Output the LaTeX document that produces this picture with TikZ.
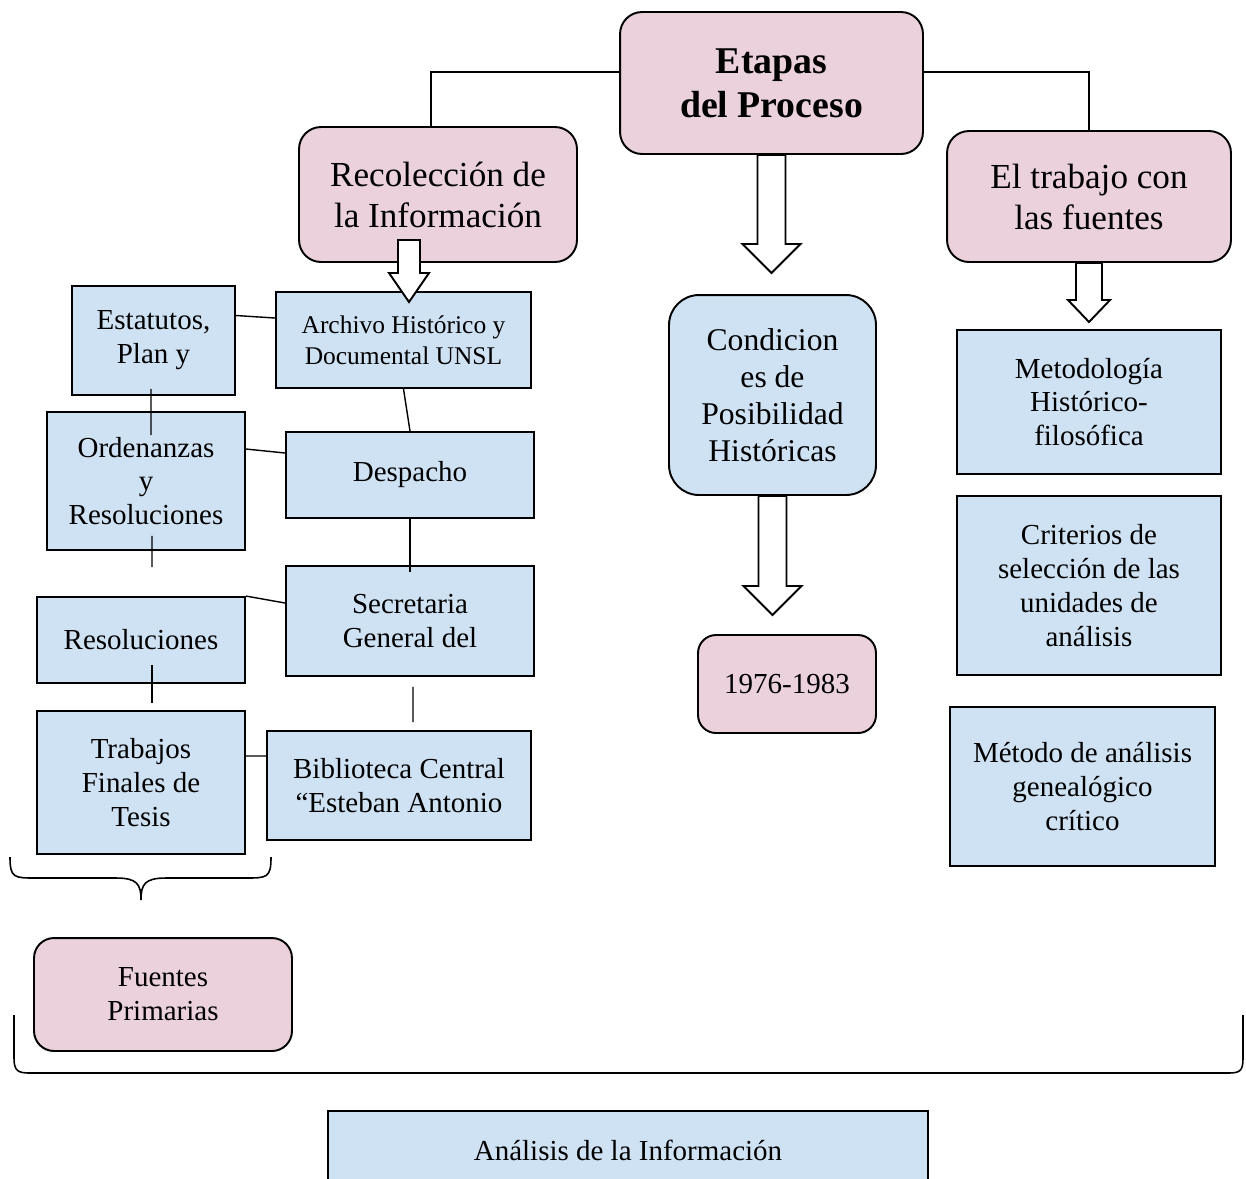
\documentclass[tikz,border=0pt]{standalone}
\usepackage{fontspec}
\setmainfont{Liberation Serif}
\usetikzlibrary{calc}
\definecolor{stagepink}{HTML}{EAD1DC}
\definecolor{sourceblue}{HTML}{CFE2F3}
\begin{document}
\begin{tikzpicture}[x=0.02cm,y=-0.02cm,
    stage/.style={
      % The shape:
      rectangle,rounded corners=4.4mm,
      % The rest
      draw=black,line width=1.1pt,fill=stagepink,
      align=center,inner sep=0pt,font=\fontsize{20}{23.3}\selectfont},
    source/.style={
      % The shape:
      rectangle,
      % The rest
      draw=black,line width=1.1pt,fill=sourceblue,
      align=center,inner sep=0pt,font=\fontsize{16.5}{19.3}\selectfont},
    link/.style={line width=0.8pt},
    hollow/.style={draw=black,fill=white,line width=1.1pt},
    brace/.style={line width=0.9pt}]
    \useasboundingbox (0,0) rectangle (1246,1178);
    \fill[white] (0,0) rectangle (1246,1178);
    \clip (0,0) rectangle (1246,1178);
    % stages
    \node (etapas) [stage,minimum width=6.06cm,minimum height=2.84cm,font=\bfseries\fontsize{21.5}{25}\selectfont] at (771.5,83) {Etapas\\del Proceso};
    \node (recol) [stage,minimum width=5.56cm,minimum height=2.7cm] at (438,194.5) {Recolección de\\la Información};
    \node (trabajo) [stage,minimum width=5.68cm,minimum height=2.62cm] at (1089,196.5) {El trabajo con\\las fuentes};
    \node (cond) [source,rounded corners=6mm,minimum width=4.14cm,minimum height=4cm,font=\fontsize{18}{21}\selectfont] at (772.5,395) {Condicion\\es de\\Posibilidad\\Históricas};
    \node (anios) [stage,rounded corners=3.6mm,minimum width=3.56cm,minimum height=1.96cm,font=\fontsize{16.5}{19.3}\selectfont] at (787,684) {1976-1983};
    % sources
    \node (archivo) [source,minimum width=5.1cm,minimum height=1.92cm,font=\fontsize{14.5}{17.6}\selectfont] at (403.5,340) {Archivo Histórico y\\Documental UNSL};
    \node (estatutos) [source,minimum width=3.26cm,minimum height=2.18cm] at (153.5,340.5) {Estatutos,\\Plan y};
    \node (ordenanzas) [source,minimum width=3.96cm,minimum height=2.76cm] at (146,481) {Ordenanzas\\y\\Resoluciones};
    \node (despacho) [source,minimum width=4.96cm,minimum height=1.72cm] at (410,475) {Despacho};
    \node (secretaria) [source,minimum width=4.96cm,minimum height=2.2cm] at (410,621) {Secretaria\\General del};
    \node (resol) [source,minimum width=4.16cm,minimum height=1.72cm] at (141,640) {Resoluciones};
    \node (tesis) [source,minimum width=4.16cm,minimum height=2.86cm] at (141,782.5) {Trabajos\\Finales de\\Tesis};
    \node (biblio) [source,minimum width=5.28cm,minimum height=2.18cm] at (399,785.5) {Biblioteca Central\\“Esteban Antonio};
    \node (fuentes) [stage,rounded corners=4mm,minimum width=5.16cm,minimum height=2.26cm,font=\fontsize{16.5}{19.3}\selectfont] at (163,994.5) {Fuentes\\Primarias};
    % methods
    \node (metodologia) [source,minimum width=5.28cm,minimum height=2.88cm] at (1089,402) {Metodología\\Histórico-\\filosófica};
    \node (criterios) [source,minimum width=5.28cm,minimum height=3.58cm] at (1089,585.5) {Criterios de\\selección de las\\unidades de\\análisis};
    \node (genealogia) [source,minimum width=5.3cm,minimum height=3.18cm] at (1082.5,786.5) {Método de análisis\\genealógico\\crítico};
    \node (analisis) [source,minimum width=12cm,minimum height=1.56cm] at (628,1150) {Análisis de la Información};
    % arrow tips and loose ends
    \coordinate (tipA) at (771.5,273);
    \coordinate (recTop) at (409,240);
    \coordinate (recTip) at (409,302);
    \coordinate (tipB) at (1089,322);
    \coordinate (tipC) at (772.5,615);
    % links
    \draw[link] ([yshift=0.22cm]etapas.west) -| ([xshift=-0.14cm]recol.north);
    \draw[link] ([yshift=0.22cm]etapas.east) -| (trabajo.north);
    \draw[link] ([yshift=0.5cm]estatutos.east) -- ([yshift=0.44cm]archivo.west);
    \draw[link,shorten <=-0.14cm,shorten >=-0.48cm] ([xshift=-0.05cm]estatutos.south) -- ([xshift=0.1cm]ordenanzas.north);
    \draw[link,shorten <=-0.3cm,shorten >=0.58cm] ([xshift=0.12cm]ordenanzas.south) -- ([xshift=0.22cm]resol.north);
    \draw[link] ([yshift=0.64cm]ordenanzas.east) -- ([yshift=0.44cm]despacho.west);
    \draw[link] (archivo.south) -- (despacho.north);
    \draw[link,shorten >=-0.14cm] (despacho.south) -- (secretaria.north);
    \draw[link] (resol.north east) -- ([yshift=0.36cm]secretaria.west);
    \draw[link,shorten <=0.2cm,shorten >=0.16cm] ([xshift=0.06cm]secretaria.south) -- ([xshift=0.28cm]biblio.north);
    \draw[link,shorten <=-0.38cm,shorten >=0.14cm] ([xshift=0.22cm]resol.south) -- ([xshift=0.22cm]tesis.north);
    \draw[link] ([yshift=0.53cm]tesis.east) -- ([yshift=0.59cm]biblio.west);
    % hollow arrows
    \draw[hollow] ($(etapas.south)+(-14,0)$) -- ($(tipA)+(-14,-29)$) -- ($(tipA)+(-29,-29)$) -- (tipA) -- ($(tipA)+(29,-29)$) -- ($(tipA)+(14,-29)$) -- ($(etapas.south)+(14,0)$) -- cycle;
    \draw[hollow] ($(recTop)+(-11,0)$) -- ($(recTip)+(-11,-29)$) -- ($(recTip)+(-20,-29)$) -- (recTip) -- ($(recTip)+(20,-29)$) -- ($(recTip)+(11,-29)$) -- ($(recTop)+(11,0)$) -- cycle;
    \draw[hollow] ($(trabajo.south)+(-13,0)$) -- ($(tipB)+(-13,-22)$) -- ($(tipB)+(-21,-22)$) -- (tipB) -- ($(tipB)+(21,-22)$) -- ($(tipB)+(13,-22)$) -- ($(trabajo.south)+(13,0)$) -- cycle;
    \draw[hollow] ($(cond.south)+(-14,0)$) -- ($(tipC)+(-14,-29)$) -- ($(tipC)+(-29,-29)$) -- (tipC) -- ($(tipC)+(29,-29)$) -- ($(tipC)+(14,-29)$) -- ($(cond.south)+(14,0)$) -- cycle;
    % braces
    \draw[brace] (10,857) .. controls (10,878) and (14,878) .. (36,878) -- (116,878) .. controls (137,878) and (141,884) .. (141,900) .. controls (141,884) and (145,878) .. (166,878) -- (245,878) .. controls (267,878) and (271,878) .. (271,857);
    \draw[brace] (14,1015) -- (14,1058) .. controls (14,1071) and (18,1073) .. (30,1073) -- (1228,1073) .. controls (1240,1073) and (1243,1071) .. (1243,1058) -- (1243,1015);
  \end{tikzpicture}
\end{document}
